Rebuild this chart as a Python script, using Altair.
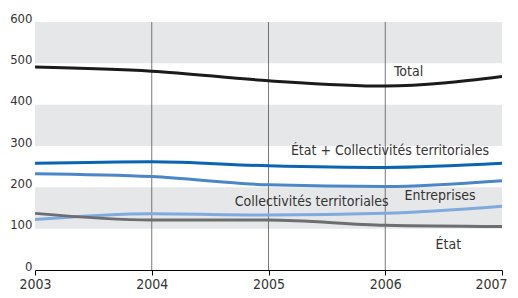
import altair as alt
import pandas as pd

years = [2003, 2004, 2005, 2006, 2007]
series_names = ["Total", "État + Collectivités territoriales", "Entreprises",
                "Collectivités territoriales", "État"]
total = [491, 481, 458, 445, 468]
etat_ct = [258, 262, 252, 248, 258]
entreprises = [233, 226, 206, 202, 216]
collectivites = [122, 136, 133, 137, 154]
etat = [137, 121, 121, 108, 105]
colors = ["#1b1b1b", "#0b64b3", "#4b86c9", "#80a9dd", "#6d6e71"]

label_text = series_names
label_x = [2006.2, 2006.04, 2006.47, 2005.37, 2006.54]
label_y = [480, 289, 178, 164, 60]

band_lo = [100, 300, 500]
band_hi = [200, 400, 600]
grid_years = [2004, 2005, 2006]

FONT = "Liberation Sans Narrow, DejaVu Sans Condensed, sans-serif"

rows = []
for name, vals in zip(series_names, [total, etat_ct, entreprises, collectivites, etat]):
    for yr, v in zip(years, vals):
        rows.append({"year": yr, "value": v, "series": name})
df = pd.DataFrame(rows)

bands = pd.DataFrame({"lo": band_lo, "hi": band_hi})
grid = pd.DataFrame({"year": grid_years})
labels = pd.DataFrame({"text": label_text, "x": label_x, "y": label_y})

W, H = 467, 248
xscale = alt.Scale(domain=[2003, 2007], nice=False)
yscale = alt.Scale(domain=[0, 600], nice=False)

band_layer = alt.Chart(bands).mark_rect(color="#e6e7e9").encode(
    y=alt.Y("lo:Q", scale=yscale,
            axis=alt.Axis(values=[0, 100, 200, 300, 400, 500, 600], title=None,
                          domain=False, ticks=False, grid=False,
                          labelFont=FONT, labelFontSize=13, labelColor="#333333",
                          labelPadding=3, labelOffset=-4)),
    y2="hi:Q",
    x=alt.value(0),
    x2=alt.value(W),
)

grid_layer = alt.Chart(grid).mark_rule(color="#555555", strokeWidth=0.8).encode(
    x=alt.X("year:Q", scale=xscale),
    y=alt.value(0),
    y2=alt.value(H),
)

line_layer = alt.Chart(df).mark_line(strokeWidth=3, interpolate="monotone").encode(
    x=alt.X("year:Q", scale=xscale,
            axis=alt.Axis(values=years, format="d", title=None, grid=False,
                          domainColor="#000000", tickColor="#000000", tickSize=5,
                          labelFont=FONT, labelFontSize=14, labelColor="#333333",
                          labelPadding=2, labelFlush=False,
                          labelAlign=alt.expr("datum.value == 2007 ? 'right' : 'center'"),
                          labelOffset=alt.expr("datum.value == 2007 ? 5 : 0"))),
    y=alt.Y("value:Q", scale=yscale),
    color=alt.Color("series:N", scale=alt.Scale(domain=series_names, range=colors), legend=None),
    detail="series:N",
)

text_layer = alt.Chart(labels).mark_text(font=FONT, fontSize=14, color="#333333").encode(
    x=alt.X("x:Q", scale=xscale),
    y=alt.Y("y:Q", scale=yscale),
    text="text:N",
)

chart = alt.layer(band_layer, grid_layer, line_layer, text_layer).properties(
    width=W, height=H,
    autosize=alt.AutoSizeParams(type="none"),
    padding={"left": 27, "top": 14, "right": 8, "bottom": 20},
).configure_view(stroke=None)

chart.save("out.html", embed_options={"renderer": "svg", "actions": False})
